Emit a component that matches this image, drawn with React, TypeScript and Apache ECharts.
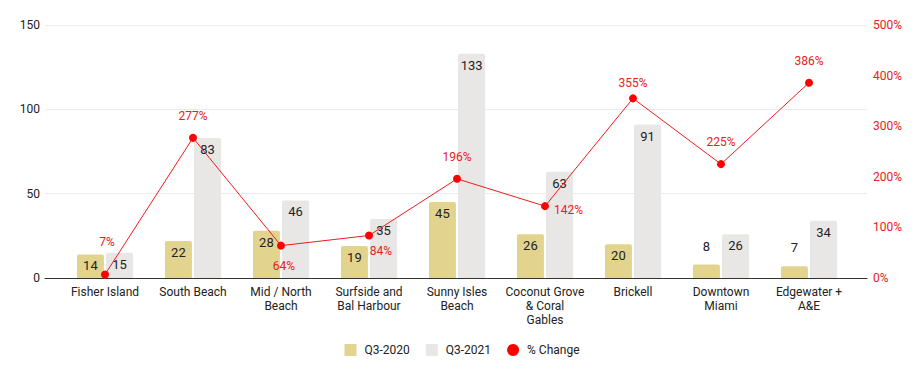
import React, { useEffect, useRef } from "react";
import * as echarts from "echarts";

const categories = [
  "Fisher Island",
  "South Beach",
  "Mid / North\nBeach",
  "Surfside and\nBal Harbour",
  "Sunny Isles\nBeach",
  "Coconut Grove\n& Coral\nGables",
  "Brickell",
  "Downtown\nMiami",
  "Edgewater +\nA&E",
];
const q32020 = [14, 22, 28, 19, 45, 26, 20, 8, 7];
const q32021 = [15, 83, 46, 35, 133, 63, 91, 26, 34];
const pctChange = [7, 277, 64, 84, 196, 142, 355, 225, 386];
const leftTicks = { min: 0, max: 150, interval: 50 };
const rightTicks = { min: 0, max: 500, interval: 100 };

// label placement styles for the % Change points
const pctLabelStyle: { position: string; offset: [number, number] }[] = [
  { position: "top", offset: [2, -17] },
  { position: "top", offset: [0, -7] },
  { position: "bottom", offset: [3, 5] },
  { position: "bottom", offset: [12, 1] },
  { position: "top", offset: [0, -7] },
  { position: "right", offset: [0, 4] },
  { position: "top", offset: [0, 0] },
  { position: "top", offset: [0, -7] },
  { position: "top", offset: [0, -7] },
];

const FONT = "Roboto";
const GOLD = "#e2d48e";
const GRAY = "#e8e7e6";
const RED = "#ff0000";
const RED_TEXT = "#e82020";

export default function App() {
  const ref = useRef<HTMLDivElement>(null);
  useEffect(() => {
    document.body.style.margin = "0";
    const chart = echarts.init(ref.current!, null, { renderer: "svg" });
    const barLabel = (v: number) =>
      v < 10
        ? { show: true, position: "top", distance: 12 }
        : { show: true, position: "insideTop", distance: 5 };
    chart.setOption({
      animation: false,
      textStyle: { fontFamily: FONT },
      grid: [
        { left: 45, right: 57, top: 25, bottom: 93 },
        { left: 61, right: 71, top: 25, bottom: 93 },
      ],
      legend: {
        top: 339,
        left: "center",
        itemWidth: 12,
        itemHeight: 12,
        itemGap: 16,
        textStyle: { color: "#222", fontSize: 12, fontFamily: FONT, padding: [0, 0, 0, 3] },
        data: [
          { name: "Q3-2020", icon: "rect" },
          { name: "Q3-2021", icon: "rect" },
          { name: "% Change", icon: "circle" },
        ],
      },
      xAxis: [
        {
          type: "value",
          gridIndex: 0,
          min: 0,
          max: 1,
          axisLine: { show: true, onZero: false, lineStyle: { color: "#333", width: 1 } },
          axisTick: { show: false },
          axisLabel: { show: false },
          splitLine: { show: false },
        },
        {
          type: "category",
          gridIndex: 1,
          data: categories,
          axisLine: { show: false },
          axisTick: { show: false },
          axisLabel: {
            interval: 0,
            margin: 7,
            color: "#222",
            fontSize: 12,
            lineHeight: 14,
            fontFamily: FONT,
          },
        },
      ],
      yAxis: [
        {
          type: "value",
          gridIndex: 0,
          ...leftTicks,
          axisLine: { show: false },
          axisTick: { show: false },
          axisLabel: { color: "#222", fontSize: 12, margin: 5, fontFamily: FONT },
          splitLine: { lineStyle: { color: "#ebebeb", width: 1 } },
        },
        {
          type: "value",
          gridIndex: 0,
          position: "right",
          ...rightTicks,
          axisLine: { show: false },
          axisTick: { show: false },
          axisLabel: { color: RED_TEXT, fontSize: 12, margin: 6, formatter: "{value}%", fontFamily: FONT },
          splitLine: { show: false },
        },
        { type: "value", gridIndex: 1, ...leftTicks, show: false, splitLine: { show: false } },
        { type: "value", gridIndex: 1, ...rightTicks, show: false, splitLine: { show: false } },
      ],
      series: [
        {
          name: "Q3-2020",
          type: "bar",
          xAxisIndex: 1,
          yAxisIndex: 2,
          barWidth: 27,
          barGap: "8%",
          itemStyle: { color: GOLD, borderRadius: [2, 2, 0, 0] },
          label: { color: "#222", fontSize: 13, fontFamily: FONT },
          data: q32020.map((v) => ({ value: v, label: barLabel(v) })),
        },
        {
          name: "Q3-2021",
          type: "bar",
          xAxisIndex: 1,
          yAxisIndex: 2,
          barWidth: 27,
          barGap: "8%",
          itemStyle: { color: GRAY, borderRadius: [2, 2, 0, 0] },
          label: { color: "#222", fontSize: 13, fontFamily: FONT },
          data: q32021.map((v) => ({ value: v, label: barLabel(v) })),
        },
        {
          name: "% Change",
          type: "line",
          xAxisIndex: 1,
          yAxisIndex: 3,
          symbol: "circle",
          symbolSize: 8,
          z: 5,
          lineStyle: { color: "#ee1c1c", width: 1 },
          itemStyle: { color: RED },
          label: { show: true, color: RED_TEXT, fontSize: 12, formatter: "{c}%", fontFamily: FONT },
          data: pctChange.map((v, i) => ({
            value: v,
            label: { position: pctLabelStyle[i].position, offset: pctLabelStyle[i].offset },
          })),
        },
      ],
    });
    return () => chart.dispose();
  }, []);
  return <div ref={ref} style={{ width: 924, height: 371 }} />;
}
